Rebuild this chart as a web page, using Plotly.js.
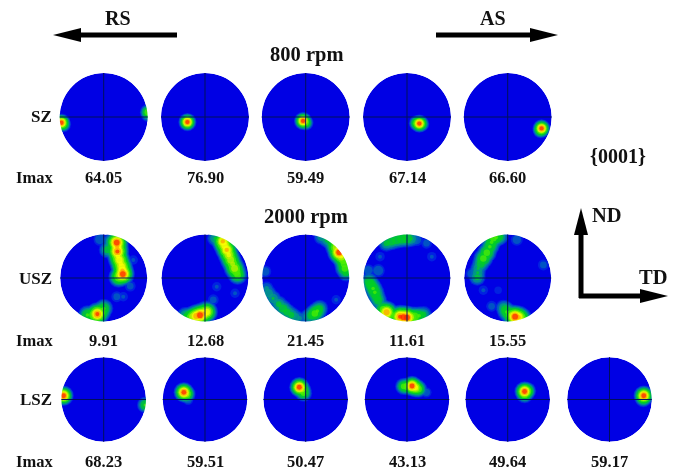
<!DOCTYPE html>
<html><head><meta charset="utf-8">
<script src="https://cdn.plot.ly/plotly-3.0.1.min.js"></script>
<style>html,body{margin:0;padding:0;background:#fff}#plot{width:676px;height:471px;filter:blur(0.6px)}</style>
</head><body><div id="plot"></div>
<script>
// Texture peaks: [x, y, relative intensity] on the unit pole-figure disc.
const sz1=[[-0.96,-0.13,1],[-0.92,-0.17,0.6],[1.0,0.11,0.6],[1.0,0.04,0.4]];
const sz2=[[-0.40,-0.115,1]];
const sz3=[[-0.06,-0.09,1],[0.0,-0.13,0.6]];
const sz4=[[0.28,-0.15,1],[0.22,-0.14,0.62],[0.33,-0.16,0.6]];
const sz5=[[0.77,-0.26,1],[0.75,-0.3,0.65]];
const usz1=[[0.30,0.815,1],[0.31,0.72,0.85],[0.315,0.61,0.95],[0.33,0.5,0.75],[0.36,0.415,0.8],[0.39,0.33,0.75],[0.415,0.26,0.8],[0.43,0.17,0.85],[0.44,0.09,1],[0.38,0.05,0.75],[0.34,0.015,0.6],[0.18,0.84,0.4],[0.085,0.65,0.4],[0.16,0.72,0.38],[-0.146,-0.83,0.95],[-0.06,-0.78,0.6],[-0.375,-0.85,0.5],[0,-0.70,0.5],[-0.24,-0.85,0.6],[-0.085,0.89,0.26],[0.3,-0.43,0.22],[0.61,-0.185,0.22],[0.68,0.415,0.2],[0.45,-0.43,0.2]];
const usz2=[[0.41,0.84,0.85],[0.45,0.75,0.8],[0.5,0.645,0.85],[0.545,0.53,0.75],[0.59,0.415,0.7],[0.635,0.32,0.65],[0.68,0.22,0.7],[0.72,0.14,0.6],[0.75,0.07,0.55],[0.23,0.915,0.35],[0.32,0.88,0.4],[-0.115,-0.855,1],[-0.2,-0.875,0.9],[-0.04,-0.82,0.85],[0.04,-0.78,0.8],[-0.285,-0.89,0.7],[-0.37,-0.88,0.5],[-0.46,-0.855,0.35],[0.19,-0.5,0.22],[0.27,-0.2,0.2],[0.69,-0.35,0.2]];
const usz3=[[0.77,0.59,1],[0.7,0.7,0.7],[0.63,0.8,0.5],[0.5,0.88,0.38],[0.36,0.94,0.32],[0.82,0.5,0.75],[0.86,0.415,0.6],[0.88,0.32,0.55],[0.9,0.22,0.55],[0.93,0.12,0.4],[0.27,-0.76,0.5],[0.21,-0.815,0.55],[0.13,-0.86,0.42],[0.05,-0.89,0.33],[0.32,-0.7,0.4],[-0.52,-0.7,0.42],[-0.62,-0.6,0.38],[-0.75,-0.47,0.35],[-0.85,-0.35,0.33],[-0.9,-0.24,0.28],[-0.43,-0.78,0.4],[-0.33,-0.85,0.38],[-0.24,-0.9,0.33],[-0.93,0.15,0.24],[-0.14,-0.93,0.28],[0.7,-0.5,0.2]];
const usz4=[[0,0.915,0.48],[-0.12,0.9,0.45],[-0.24,0.88,0.45],[-0.36,0.84,0.42],[-0.47,0.8,0.38],[0.1,0.9,0.35],[0.22,0.88,0.25],[0.45,0.8,0.22],[-0.87,-0.085,0.45],[-0.83,-0.16,0.48],[-0.78,-0.24,0.5],[-0.74,-0.33,0.5],[-0.7,-0.43,0.45],[-0.66,-0.52,0.42],[-0.66,0.17,0.26],[-0.62,0.49,0.2],[-0.47,-0.79,0.9],[-0.55,-0.72,0.55],[-0.4,-0.83,0.6],[-0.28,-0.87,0.55],[-0.16,-0.89,0.95],[-0.08,-0.9,1],[0,-0.91,1],[0.08,-0.9,0.7],[0.18,-0.89,0.6],[0.28,-0.87,0.5],[0.38,-0.84,0.38],[0.57,0.49,0.2],[-0.89,0.18,0.24]];
const usz5=[[-0.33,0.915,0.55],[-0.26,0.93,0.5],[-0.18,0.95,0.4],[-0.37,0.82,0.5],[-0.41,0.72,0.5],[-0.48,0.58,0.55],[-0.56,0.45,0.55],[-0.62,0.33,0.42],[-0.68,0.22,0.35],[-0.69,0.12,0.35],[-0.7,0.015,0.38],[-0.83,0.1,0.24],[0.21,0.88,0.24],[0.82,0.3,0.22],[0.17,-0.89,1],[0.25,-0.9,0.85],[0.08,-0.85,0.65],[-0.02,-0.78,0.5],[-0.06,-0.72,0.42],[0.32,-0.91,0.6],[-0.1,-0.68,0.33],[-0.37,-0.65,0.22],[-0.56,-0.28,0.2],[-0.22,-0.28,0.18]];
const lsz1=[[-0.95,0.09,1],[0.98,-0.13,0.5]];
const lsz2=[[-0.5,0.17,1],[-0.44,0.13,0.7],[-0.4,-0.01,0.24]];
const lsz3=[[-0.15,0.29,1],[-0.08,0.22,0.65],[-0.05,0.15,0.55]];
const lsz4=[[0.12,0.32,1],[0.0,0.31,0.6],[-0.08,0.31,0.55],[0.2,0.28,0.8],[0.27,0.25,0.6],[0.46,0.17,0.24]];
const lsz5=[[0.4,0.19,1],[0.46,0.2,0.65],[0.4,0.12,0.6]];
const lsz6=[[0.81,0.09,1],[0.8,0.02,0.55]];

const figures=[sz1,sz2,sz3,sz4,sz5,usz1,usz2,usz3,usz4,usz5,lsz1,lsz2,lsz3,lsz4,lsz5,lsz6];
const imaxLabels=["64.05","76.90","59.49","67.14","66.60","9.91","12.68","21.45","11.61","15.55","68.23","59.51","50.47","43.13","49.64","59.17"];
const rowLabels=["SZ","USZ","LSZ"];

// Layout of the panels (pixels)
const W=676,H=471;
const colX=[103.7,205,305.7,407,507.7,609.5];
const rows=[{cy:117,r:44,n:5,imaxY:177,sigma:4.7},{cy:278,r:43.5,n:5,imaxY:340,sigma:6.2},{cy:399.5,r:42.3,n:6,imaxY:461,sigma:5.3}];
const PAD=1.08, MASK=1.14;
const levels=[[0.15,'#0030e0'],[0.19,'#0068b8'],[0.26,'#00a080'],[0.34,'#00d020'],[0.48,'#50f000'],[0.6,'#c0f000'],[0.7,'#ffff00'],[0.8,'#ffa000'],[0.9,'#ff2000']];
const BLUE='#0000e4';

const px=x=>x/W, py=y=>1-y/H;
const layout={width:W,height:H,margin:{l:0,r:0,t:0,b:0},paper_bgcolor:'#fff',plot_bgcolor:'rgba(0,0,0,0)',showlegend:false,shapes:[],annotations:[]};
const data=[];
const serif='"Liberation Serif", "Times New Roman", serif';
function text(t,x,y,size,anchor){layout.annotations.push({text:'<b>'+t+'</b>',xref:'paper',yref:'paper',x:px(x),y:py(y),xanchor:anchor||'center',yanchor:'middle',showarrow:false,font:{family:serif,size:size,color:'#111'},borderpad:0});}
const k=0.5523;
function discMask(cx,cy,r){
  const X=u=>px(cx+u*r), Y=v=>py(cy-v*r), P=(u,v)=>X(u)+','+Y(v), M=MASK;
  return `M${P(-M,-M)} L${P(M,-M)} L${P(M,M)} L${P(-M,M)} Z M${P(1,0)} C${P(1,k)} ${P(k,1)} ${P(0,1)} C${P(-k,1)} ${P(-1,k)} ${P(-1,0)} C${P(-1,-k)} ${P(-k,-1)} ${P(0,-1)} C${P(k,-1)} ${P(1,-k)} ${P(1,0)} Z`;
}
let idx=0;
rows.forEach((row,ri)=>{
  text(rowLabels[ri],53,row.cy,17,'right');
  text('Imax',34.5,row.imaxY,16.5);
  for(let c=0;c<row.n;c++){
    idx++;
    const s=idx===1?'':idx, xa='xaxis'+s, ya='yaxis'+s, xr='x'+s, yr='y'+s;
    const cx=colX[c], r=row.r*PAD;
    const ax={visible:false,range:[-PAD,PAD],fixedrange:true,showgrid:false,zeroline:false};
    layout[xa]=Object.assign({domain:[px(cx-r),px(cx+r)],anchor:yr},ax);
    layout[ya]=Object.assign({domain:[py(row.cy+r),py(row.cy-r)],anchor:xr},ax);
    layout.shapes.push({type:'circle',xref:xr,yref:yr,x0:-1,y0:-1,x1:1,y1:1,fillcolor:BLUE,line:{width:0},layer:'below'});
    const fig=figures[idx-1];
    levels.forEach(([t,col])=>{
      const pts=fig.filter(p=>p[2]>t);
      if(!pts.length)return;
      data.push({type:'scatter',mode:'markers',xaxis:xr,yaxis:yr,hoverinfo:'skip',
        x:pts.map(p=>p[0]),y:pts.map(p=>p[1]),
        marker:{color:col,line:{width:0},size:pts.map(p=>2*row.sigma*Math.sqrt(2*Math.log(p[2]/t)))}});
    });
    // white mask outside the disc, then the cross hairs
    layout.shapes.push({type:'path',xref:'paper',yref:'paper',fillcolor:'#fff',line:{width:0},path:discMask(cx,row.cy,row.r)});
    layout.shapes.push({type:'line',xref:xr,yref:yr,x0:-1,x1:1,y0:0,y1:0,line:{color:'#00105a',width:1}});
    layout.shapes.push({type:'line',xref:xr,yref:yr,x0:0,x1:0,y0:-1,y1:1,line:{color:'#00105a',width:1}});
    text(imaxLabels[idx-1],cx,row.imaxY,16.5);
  }
});
text('RS',118,18,20);
text('AS',493,18,20);
text('800 rpm',306,55,20.5);
text('2000 rpm',306,216,20.5);
text('{0001}',618,156,20);
text('ND',591,215,20.5,'left');
text('TD',653,277,20.5);

function seg(x0,y0,x1,y1){layout.shapes.push({type:'line',xref:'paper',yref:'paper',x0:px(x0),y0:py(y0),x1:px(x1),y1:py(y1),line:{color:'#000',width:5}});}
function tri(a,b,c){layout.shapes.push({type:'path',xref:'paper',yref:'paper',fillcolor:'#000',line:{width:0},
  path:`M${px(a[0])},${py(a[1])} L${px(b[0])},${py(b[1])} L${px(c[0])},${py(c[1])} Z`});}
seg(177,35,80,35); tri([53,35],[81,28],[81,42]);
seg(436,35,531,35); tri([558,35],[530,28],[530,42]);
seg(581,298,581,232); tri([581,208],[574,235],[588,235]);
seg(579,296,641,296); tri([668,296],[640,289],[640,303]);

Plotly.newPlot('plot',data,layout,{displayModeBar:false,staticPlot:true});
</script></body></html>
